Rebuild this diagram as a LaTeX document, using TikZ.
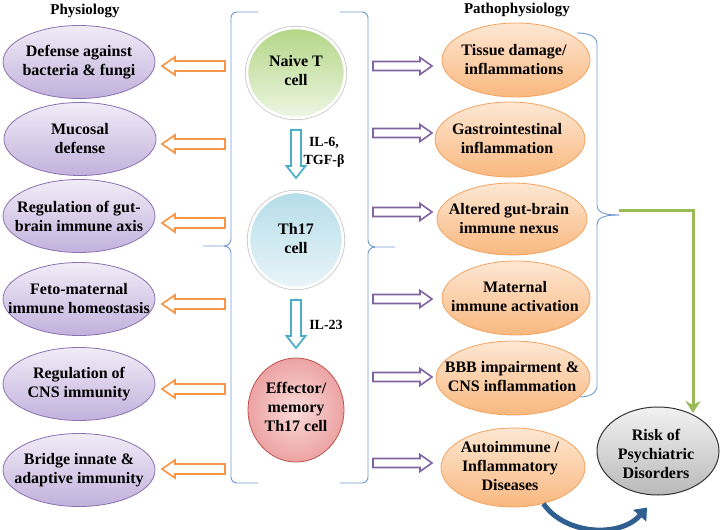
\documentclass[tikz,border=0pt]{standalone}
\usepackage{fontspec}
\setmainfont{Liberation Serif}
\usetikzlibrary{shapes.geometric,arrows.meta,calc}
\definecolor{ptop}{HTML}{F1ECF7}
\definecolor{pbot}{HTML}{C2B1DC}
\definecolor{pborder}{HTML}{8A72B0}
\definecolor{otop}{HTML}{FDE7D3}
\definecolor{obot}{HTML}{F9B87F}
\definecolor{oborder}{HTML}{F4A25E}
\definecolor{arrO}{HTML}{F79646}
\definecolor{arrP}{HTML}{8064A2}
\definecolor{arrB}{HTML}{4BACC6}
\definecolor{bracecol}{HTML}{6F9AD0}
\definecolor{greenln}{HTML}{9BBB59}
\definecolor{curveblue}{HTML}{2F5F91}
\definecolor{gtop}{HTML}{B3D686}
\definecolor{gbot}{HTML}{EEF6E3}
\definecolor{btop}{HTML}{B5DDE8}
\definecolor{bbot}{HTML}{E9F5F9}
\definecolor{rin}{HTML}{FADAD8}
\definecolor{rout}{HTML}{ECA3A3}
\definecolor{rborder}{HTML}{C0504D}
\definecolor{gytop}{HTML}{F2F2F2}
\definecolor{gybot}{HTML}{B9B9B9}
\begin{document}
\begin{tikzpicture}[x=1pt,y=-1pt,
  base/.style={font=\bfseries\fontsize{16}{19}\selectfont, align=center, inner sep=0pt},
  hd/.style={font=\bfseries\fontsize{15}{18}\selectfont, inner sep=0pt},
  lbl/.style={font=\bfseries\fontsize{14}{18}\selectfont, align=center, inner sep=0pt},
  pell/.style={ellipse, draw=pborder, line width=0.8pt, top color=ptop, bottom color=pbot, inner sep=0pt, minimum width=152pt, minimum height=73pt},
  oell/.style={ellipse, draw=oborder, line width=0.8pt, top color=otop, bottom color=obot, inner sep=0pt},
  cellbase/.style={ellipse, inner sep=0pt, preaction={draw=black!22, line width=4.2pt}, draw=white, line width=2.6pt},
  bracestyle/.style={draw=bracecol, line width=0.9pt},
  oarrow/.style={draw=arrO, line width=1.7pt, fill=white, line join=miter},
  parrow/.style={draw=arrP, line width=1.6pt, fill=white, line join=miter},
  barrow/.style={draw=arrB, line width=1.7pt, fill=white, line join=miter},
  larr/.pic={\draw[pic actions] (0,-5) -- (-50,-5) -- (-50,-9) -- (-63,0) -- (-50,9) -- (-50,5) -- (0,5) -- cycle;},
  rarr/.pic={\draw[pic actions] (0,-4.5) -- (47,-4.5) -- (47,-8.5) -- (59,0) -- (47,8.5) -- (47,4.5) -- (0,4.5) -- cycle;},
  darr/.pic={\draw[pic actions] (-5,0) -- (-5,36) -- (-9.5,36) -- (0,48) -- (9.5,36) -- (5,36) -- (5,0) -- cycle;}
]
\useasboundingbox[fill=white] (0,0) rectangle (721,530);

% headers
\node[hd, anchor=base] (h1) at (85,14) {Physiology};
\node[hd, anchor=base] (h2) at (517,13) {Pathophysiology};

% left purple ellipses
\node[pell] (p1) at (79,62) {};
\node[base] (p1t) at (p1) {Defense against\\bacteria \& fungi};
\node[pell] (p2) at (80,139) {};
\node[base] (p2t) at (p2) {Mucosal\\defense};
\node[pell] (p3) at (79,216) {};
\node[base] (p3t) at (p3) {Regulation of gut-\\brain immune axis};
\node[pell] (p4) at (79,299) {};
\node[base] (p4t) at (p4) {Feto-maternal\\immune homeostasis};
\node[pell] (p5) at (79,384) {};
\node[base] (p5t) at (p5) {Regulation of\\CNS immunity};
\node[pell] (p6) at (79,470) {};
\node[base] (p6t) at (p6) {Bridge innate \&\\adaptive immunity};

% central cells
\node[cellbase, top color=gtop, bottom color=gbot, minimum width=98pt, minimum height=90pt] (naive) at (296,73) {};
\node[base] (naivet) at (296,71) {Naive T\\cell};
\node[cellbase, top color=btop, bottom color=bbot, minimum width=94pt, minimum height=96pt] (th17) at (296,240) {};
\node[base] (th17t) at (296,239) {Th17\\cell};
\node[ellipse, inner sep=0pt, inner color=rin, outer color=rout, draw=rborder, line width=0.8pt, minimum width=96pt, minimum height=104pt] (eff) at (296,410) {};
\node[base] (efft) at (296,407) {Effector/\\memory\\Th17 cell};

% differentiation arrows
\pic[barrow] at (296,130) {darr};
\pic[barrow] at (296,300) {darr};
\node[lbl] (l1) at (324,152) {IL-6,\\TGF-β};
\node[lbl] (l2) at (326,325) {IL-23};

% central braces
\draw[bracestyle] (258,12) -- (237,12) to[out=180,in=90] (231,18) -- (231,239) to[out=-90,in=0] (224,246) -- (203,246);
\draw[bracestyle] (224,246) to[out=0,in=90] (231,253) -- (231,477) to[out=-90,in=180] (237,483) -- (258,483);
\draw[bracestyle] (340,12) -- (362,12) to[out=0,in=90] (368,18) -- (368,240) to[out=-90,in=180] (375,247) -- (395,247);
\draw[bracestyle] (375,247) to[out=180,in=90] (368,254) -- (368,477) to[out=-90,in=0] (362,483) -- (340,483);

% physiology arrows (orange, pointing left)
\foreach \yy in {66,144,223,304,389,469} {\pic[oarrow] at (225,\yy) {larr};}
% pathophysiology arrows (purple, pointing right)
\foreach \yy in {66,133,212,299,377,463} {\pic[parrow] at (373,\yy) {rarr};}

% right orange ellipses
\node[oell, minimum width=148pt, minimum height=74pt] (o1) at (516,60) {};
\node[base] (o1t) at (514,60) {Tissue damage/\\inflammations};
\node[oell, minimum width=150pt, minimum height=75pt] (o2) at (510,139.5) {};
\node[base] (o2t) at (507,139) {Gastrointestinal\\inflammation};
\node[oell, minimum width=150pt, minimum height=72pt] (o3) at (512,219) {};
\node[base] (o3t) at (509,219) {Altered gut-brain\\immune nexus};
\node[oell, minimum width=148pt, minimum height=74pt] (o4) at (516,298) {};
\node[base] (o4t) at (515,297) {Maternal\\immune activation};
\node[oell, minimum width=154pt, minimum height=74pt] (o5) at (513,378) {};
\node[base] (o5t) at (512,377) {BBB impairment \&\\CNS inflammation};
\node[oell, minimum width=144pt, minimum height=79pt] (o6) at (513,467.5) {};
\node[base] (o6t) at (510,466) {Autoimmune /\\Inflammatory\\Diseases};

% risk
\node[ellipse, inner sep=0pt, top color=gytop, bottom color=gybot, draw=black!80, line width=1pt, minimum width=122pt, minimum height=88pt] (risk) at (658,451) {};
\node[base] (riskt) at (656,454) {Risk of\\Psychiatric\\Disorders};

% right brace
\coordinate (rbtip) at (619,215);
\draw[bracestyle] (577,33) to[out=0,in=90] (597,44) -- (597,205) to[out=-90,in=180] (rbtip);
\draw[bracestyle] (rbtip) to[out=180,in=90] (597,225) -- (597,386) to[out=-90,in=0] (580,397);

% green arrow to risk
\coordinate (g0) at (619,210);
\coordinate (g1) at (693,210);
\coordinate (g2) at (693,413);
\draw[greenln, line width=3pt, -{Stealth[length=12pt,width=15pt,inset=4pt]}] (g0) -- (g1) -- (g2);

% curved arrow
\draw[curveblue, line width=5pt, -{Triangle[length=11pt,width=17pt]}] (o6.-50) .. controls (565,535) and (620,538) .. ([shift={(-11,12)}]risk.south);
\end{tikzpicture}
\end{document}
